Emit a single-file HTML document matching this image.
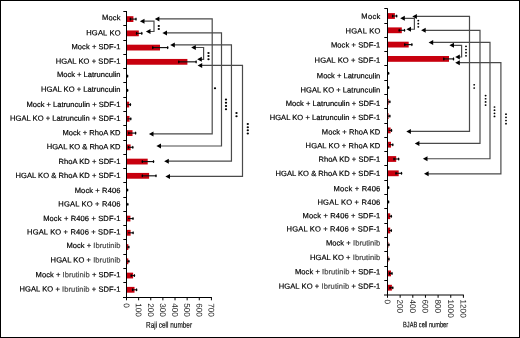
<!DOCTYPE html>
<html><head><meta charset="utf-8"><title>HGAL KO migration</title>
<style>
html,body{margin:0;padding:0;background:#fff;}
body{width:520px;height:338px;overflow:hidden;}
.fig{position:absolute;left:0;top:0;width:518px;height:336px;border:1px solid #000;background:#fff;}
svg{position:absolute;left:-1px;top:-1px;will-change:transform;}
text{font-family:"Liberation Sans", sans-serif;}
.lb{fill:#000;stroke:#000;stroke-width:0.2px;}
.tk{fill:#1a1a1a;stroke:none;text-rendering:geometricPrecision;}
.ti{fill:#000;stroke:#000;stroke-width:0.15px;}
</style></head>
<body><div class="fig">
<svg width="520" height="338" viewBox="0 0 520 338">
<rect x="127.00" y="16.20" width="6.40" height="5.8" fill="#c8000e"/>
<line x1="130.30" y1="19.10" x2="136.00" y2="19.10" stroke="#111" stroke-width="1.15"/>
<ellipse cx="136.00" cy="19.10" rx="0.75" ry="1.55" fill="#000"/>
<ellipse cx="130.30" cy="19.10" rx="0.75" ry="1.55" fill="#000"/>
<text x="120.5" y="20.15" transform="rotate(0.05 120.5 20.15)" text-anchor="end" textLength="18.55" lengthAdjust="spacing" font-size="7.56" class="lb">Mock</text>
<rect x="127.00" y="30.45" width="11.80" height="5.8" fill="#c8000e"/>
<line x1="136.60" y1="33.35" x2="141.80" y2="33.35" stroke="#111" stroke-width="1.15"/>
<ellipse cx="141.80" cy="33.35" rx="0.75" ry="1.55" fill="#000"/>
<ellipse cx="136.60" cy="33.35" rx="0.75" ry="1.55" fill="#000"/>
<text x="120.5" y="35.40" transform="rotate(0.05 120.5 35.40)" text-anchor="end" textLength="34.23" lengthAdjust="spacing" font-size="7.56" class="lb">HGAL KO</text>
<rect x="127.00" y="44.69" width="33.00" height="5.8" fill="#c8000e"/>
<line x1="152.80" y1="47.59" x2="167.70" y2="47.59" stroke="#111" stroke-width="1.15"/>
<ellipse cx="167.70" cy="47.59" rx="0.75" ry="1.55" fill="#000"/>
<ellipse cx="152.80" cy="47.59" rx="0.75" ry="1.55" fill="#000"/>
<text x="120.5" y="49.30" transform="rotate(0.05 120.5 49.30)" text-anchor="end" textLength="49.00" lengthAdjust="spacing" font-size="7.56" class="lb">Mock + SDF-1</text>
<rect x="127.00" y="58.94" width="60.40" height="5.8" fill="#c8000e"/>
<line x1="178.80" y1="61.84" x2="196.10" y2="61.84" stroke="#111" stroke-width="1.15"/>
<ellipse cx="196.10" cy="61.84" rx="0.75" ry="1.55" fill="#000"/>
<ellipse cx="178.80" cy="61.84" rx="0.75" ry="1.55" fill="#000"/>
<text x="120.5" y="63.70" transform="rotate(0.05 120.5 63.70)" text-anchor="end" textLength="64.84" lengthAdjust="spacing" font-size="7.56" class="lb">HGAL KO + SDF-1</text>
<line x1="126.90" y1="76.09" x2="127.60" y2="76.09" stroke="#111" stroke-width="1.15"/>
<ellipse cx="127.60" cy="76.09" rx="0.75" ry="1.55" fill="#000"/>
<text x="120.5" y="77.00" transform="rotate(0.05 120.5 77.00)" text-anchor="end" textLength="63.52" lengthAdjust="spacing" font-size="7.56" class="lb">Mock + Latrunculin</text>
<line x1="126.90" y1="90.34" x2="127.60" y2="90.34" stroke="#111" stroke-width="1.15"/>
<ellipse cx="127.60" cy="90.34" rx="0.75" ry="1.55" fill="#000"/>
<text x="120.5" y="91.90" transform="rotate(0.05 120.5 91.90)" text-anchor="end" textLength="79.45" lengthAdjust="spacing" font-size="7.56" class="lb">HGAL KO + Latrunculin</text>
<rect x="127.00" y="101.68" width="2.20" height="5.8" fill="#c8000e"/>
<line x1="127.50" y1="104.58" x2="130.40" y2="104.58" stroke="#111" stroke-width="1.15"/>
<ellipse cx="130.40" cy="104.58" rx="0.75" ry="1.55" fill="#000"/>
<text x="120.5" y="107.00" transform="rotate(0.05 120.5 107.00)" text-anchor="end" textLength="94.09" lengthAdjust="spacing" font-size="7.56" class="lb">Mock + Latrunculin + SDF-1</text>
<rect x="127.00" y="115.93" width="2.50" height="5.8" fill="#c8000e"/>
<line x1="127.50" y1="118.83" x2="130.80" y2="118.83" stroke="#111" stroke-width="1.15"/>
<ellipse cx="130.80" cy="118.83" rx="0.75" ry="1.55" fill="#000"/>
<text x="120.5" y="120.90" transform="rotate(0.05 120.5 120.90)" text-anchor="end" textLength="110.51" lengthAdjust="spacing" font-size="7.56" class="lb">HGAL KO + Latrunculin + SDF-1</text>
<rect x="127.00" y="130.18" width="5.50" height="5.8" fill="#c8000e"/>
<line x1="128.80" y1="133.08" x2="135.60" y2="133.08" stroke="#111" stroke-width="1.15"/>
<ellipse cx="135.60" cy="133.08" rx="0.75" ry="1.55" fill="#000"/>
<ellipse cx="128.80" cy="133.08" rx="0.75" ry="1.55" fill="#000"/>
<text x="120.5" y="135.35" transform="rotate(0.05 120.5 135.35)" text-anchor="end" textLength="58.08" lengthAdjust="spacing" font-size="7.56" class="lb">Mock + RhoA KD</text>
<rect x="127.00" y="144.42" width="3.60" height="5.8" fill="#c8000e"/>
<line x1="128.50" y1="147.32" x2="132.80" y2="147.32" stroke="#111" stroke-width="1.15"/>
<ellipse cx="132.80" cy="147.32" rx="0.75" ry="1.55" fill="#000"/>
<ellipse cx="128.50" cy="147.32" rx="0.75" ry="1.55" fill="#000"/>
<text x="120.5" y="149.20" transform="rotate(0.05 120.5 149.20)" text-anchor="end" textLength="73.76" lengthAdjust="spacing" font-size="7.56" class="lb">HGAL KO &amp; RhoA KD</text>
<rect x="127.00" y="158.67" width="20.70" height="5.8" fill="#c8000e"/>
<line x1="142.30" y1="161.57" x2="153.50" y2="161.57" stroke="#111" stroke-width="1.15"/>
<ellipse cx="153.50" cy="161.57" rx="0.75" ry="1.55" fill="#000"/>
<ellipse cx="142.30" cy="161.57" rx="0.75" ry="1.55" fill="#000"/>
<text x="120.5" y="164.00" transform="rotate(0.05 120.5 164.00)" text-anchor="end" textLength="61.91" lengthAdjust="spacing" font-size="7.56" class="lb">RhoA KD + SDF-1</text>
<rect x="127.00" y="172.92" width="22.10" height="5.8" fill="#c8000e"/>
<line x1="142.30" y1="175.82" x2="156.00" y2="175.82" stroke="#111" stroke-width="1.15"/>
<ellipse cx="156.00" cy="175.82" rx="0.75" ry="1.55" fill="#000"/>
<ellipse cx="142.30" cy="175.82" rx="0.75" ry="1.55" fill="#000"/>
<text x="120.5" y="178.00" transform="rotate(0.05 120.5 178.00)" text-anchor="end" textLength="104.98" lengthAdjust="spacing" font-size="7.56" class="lb">HGAL KO &amp; RhoA KD + SDF-1</text>
<line x1="126.90" y1="190.06" x2="127.60" y2="190.06" stroke="#111" stroke-width="1.15"/>
<ellipse cx="127.60" cy="190.06" rx="0.75" ry="1.55" fill="#000"/>
<text x="120.5" y="193.00" transform="rotate(0.05 120.5 193.00)" text-anchor="end" textLength="45.83" lengthAdjust="spacing" font-size="7.56" class="lb">Mock + R406</text>
<line x1="126.90" y1="204.31" x2="127.80" y2="204.31" stroke="#111" stroke-width="1.15"/>
<ellipse cx="127.80" cy="204.31" rx="0.75" ry="1.55" fill="#000"/>
<text x="120.5" y="206.45" transform="rotate(0.05 120.5 206.45)" text-anchor="end" textLength="62.21" lengthAdjust="spacing" font-size="7.56" class="lb">HGAL KO + R406</text>
<rect x="127.00" y="215.66" width="3.40" height="5.8" fill="#c8000e"/>
<line x1="128.00" y1="218.56" x2="133.00" y2="218.56" stroke="#111" stroke-width="1.15"/>
<ellipse cx="133.00" cy="218.56" rx="0.75" ry="1.55" fill="#000"/>
<text x="120.5" y="221.00" transform="rotate(0.05 120.5 221.00)" text-anchor="end" textLength="77.36" lengthAdjust="spacing" font-size="7.56" class="lb">Mock + R406 + SDF-1</text>
<rect x="127.00" y="229.90" width="3.60" height="5.8" fill="#c8000e"/>
<line x1="128.00" y1="232.80" x2="133.10" y2="232.80" stroke="#111" stroke-width="1.15"/>
<ellipse cx="133.10" cy="232.80" rx="0.75" ry="1.55" fill="#000"/>
<text x="120.5" y="234.60" transform="rotate(0.05 120.5 234.60)" text-anchor="end" textLength="93.44" lengthAdjust="spacing" font-size="7.56" class="lb">HGAL KO + R406 + SDF-1</text>
<rect x="127.00" y="244.15" width="1.30" height="5.8" fill="#c8000e"/>
<line x1="127.30" y1="247.05" x2="128.90" y2="247.05" stroke="#111" stroke-width="1.15"/>
<ellipse cx="128.90" cy="247.05" rx="0.75" ry="1.55" fill="#000"/>
<text x="120.5" y="248.00" transform="rotate(0.05 120.5 248.00)" text-anchor="end" textLength="54.06" lengthAdjust="spacing" font-size="7.56" class="lb">Mock + <tspan fill="#444" stroke="#444">Ibrutinib</tspan></text>
<rect x="127.00" y="258.40" width="1.30" height="5.8" fill="#c8000e"/>
<line x1="127.30" y1="261.30" x2="128.90" y2="261.30" stroke="#111" stroke-width="1.15"/>
<ellipse cx="128.90" cy="261.30" rx="0.75" ry="1.55" fill="#000"/>
<text x="120.5" y="262.45" transform="rotate(0.05 120.5 262.45)" text-anchor="end" textLength="69.88" lengthAdjust="spacing" font-size="7.56" class="lb">HGAL KO + <tspan fill="#444" stroke="#444">Ibrutinib</tspan></text>
<rect x="127.00" y="272.65" width="6.10" height="5.8" fill="#c8000e"/>
<line x1="131.20" y1="275.55" x2="134.40" y2="275.55" stroke="#111" stroke-width="1.15"/>
<ellipse cx="134.40" cy="275.55" rx="0.75" ry="1.55" fill="#000"/>
<ellipse cx="131.20" cy="275.55" rx="0.75" ry="1.55" fill="#000"/>
<text x="120.5" y="277.30" transform="rotate(0.05 120.5 277.30)" text-anchor="end" textLength="84.92" lengthAdjust="spacing" font-size="7.56" class="lb">Mock + <tspan fill="#444" stroke="#444">Ibrutinib</tspan> + SDF-1</text>
<rect x="127.00" y="286.89" width="7.50" height="5.8" fill="#c8000e"/>
<line x1="132.60" y1="289.79" x2="136.60" y2="289.79" stroke="#111" stroke-width="1.15"/>
<ellipse cx="136.60" cy="289.79" rx="0.75" ry="1.55" fill="#000"/>
<ellipse cx="132.60" cy="289.79" rx="0.75" ry="1.55" fill="#000"/>
<text x="120.5" y="291.70" transform="rotate(0.05 120.5 291.70)" text-anchor="end" textLength="101.00" lengthAdjust="spacing" font-size="7.56" class="lb">HGAL KO + <tspan fill="#444" stroke="#444">Ibrutinib</tspan> + SDF-1</text>
<line x1="126.5" y1="11.0" x2="126.5" y2="297.5" stroke="#000" stroke-width="1"/>
<line x1="123.3" y1="11.50" x2="126.5" y2="11.50" stroke="#000" stroke-width="1"/>
<line x1="123.3" y1="25.50" x2="126.5" y2="25.50" stroke="#000" stroke-width="1"/>
<line x1="123.3" y1="40.50" x2="126.5" y2="40.50" stroke="#000" stroke-width="1"/>
<line x1="123.3" y1="54.50" x2="126.5" y2="54.50" stroke="#000" stroke-width="1"/>
<line x1="123.3" y1="68.50" x2="126.5" y2="68.50" stroke="#000" stroke-width="1"/>
<line x1="123.3" y1="82.50" x2="126.5" y2="82.50" stroke="#000" stroke-width="1"/>
<line x1="123.3" y1="97.50" x2="126.5" y2="97.50" stroke="#000" stroke-width="1"/>
<line x1="123.3" y1="111.50" x2="126.5" y2="111.50" stroke="#000" stroke-width="1"/>
<line x1="123.3" y1="125.50" x2="126.5" y2="125.50" stroke="#000" stroke-width="1"/>
<line x1="123.3" y1="140.50" x2="126.5" y2="140.50" stroke="#000" stroke-width="1"/>
<line x1="123.3" y1="154.50" x2="126.5" y2="154.50" stroke="#000" stroke-width="1"/>
<line x1="123.3" y1="168.50" x2="126.5" y2="168.50" stroke="#000" stroke-width="1"/>
<line x1="123.3" y1="182.50" x2="126.5" y2="182.50" stroke="#000" stroke-width="1"/>
<line x1="123.3" y1="197.50" x2="126.5" y2="197.50" stroke="#000" stroke-width="1"/>
<line x1="123.3" y1="211.50" x2="126.5" y2="211.50" stroke="#000" stroke-width="1"/>
<line x1="123.3" y1="225.50" x2="126.5" y2="225.50" stroke="#000" stroke-width="1"/>
<line x1="123.3" y1="239.50" x2="126.5" y2="239.50" stroke="#000" stroke-width="1"/>
<line x1="123.3" y1="254.50" x2="126.5" y2="254.50" stroke="#000" stroke-width="1"/>
<line x1="123.3" y1="268.50" x2="126.5" y2="268.50" stroke="#000" stroke-width="1"/>
<line x1="123.3" y1="282.50" x2="126.5" y2="282.50" stroke="#000" stroke-width="1"/>
<line x1="123.0" y1="297.5" x2="211.91000000000003" y2="297.5" stroke="#000" stroke-width="1"/>
<line x1="126.50" y1="297.5" x2="126.50" y2="300.3" stroke="#000" stroke-width="1"/>
<text transform="translate(123.65,303.20) rotate(89.95)" font-size="8.2" class="tk">0</text>
<line x1="138.63" y1="297.5" x2="138.63" y2="300.3" stroke="#000" stroke-width="1"/>
<text transform="translate(135.78,303.20) rotate(89.95)" font-size="8.2" class="tk">100</text>
<line x1="150.76" y1="297.5" x2="150.76" y2="300.3" stroke="#000" stroke-width="1"/>
<text transform="translate(147.91,303.20) rotate(89.95)" font-size="8.2" class="tk">200</text>
<line x1="162.89" y1="297.5" x2="162.89" y2="300.3" stroke="#000" stroke-width="1"/>
<text transform="translate(160.04,303.20) rotate(89.95)" font-size="8.2" class="tk">300</text>
<line x1="175.02" y1="297.5" x2="175.02" y2="300.3" stroke="#000" stroke-width="1"/>
<text transform="translate(172.17,303.20) rotate(89.95)" font-size="8.2" class="tk">400</text>
<line x1="187.15" y1="297.5" x2="187.15" y2="300.3" stroke="#000" stroke-width="1"/>
<text transform="translate(184.30,303.20) rotate(89.95)" font-size="8.2" class="tk">500</text>
<line x1="199.28" y1="297.5" x2="199.28" y2="300.3" stroke="#000" stroke-width="1"/>
<text transform="translate(196.43,303.20) rotate(89.95)" font-size="8.2" class="tk">600</text>
<line x1="211.41" y1="297.5" x2="211.41" y2="300.3" stroke="#000" stroke-width="1"/>
<text transform="translate(208.56,303.20) rotate(89.95)" font-size="8.2" class="tk">700</text>
<text transform="translate(169.0,327.8) scale(0.765,1) rotate(0.05)" text-anchor="middle" font-size="8.4" class="ti">Raji cell number</text>
<rect x="388.00" y="13.10" width="6.90" height="5.8" fill="#c8000e"/>
<line x1="392.60" y1="16.00" x2="396.70" y2="16.00" stroke="#111" stroke-width="1.15"/>
<ellipse cx="396.70" cy="16.00" rx="0.75" ry="1.55" fill="#000"/>
<ellipse cx="392.60" cy="16.00" rx="0.75" ry="1.55" fill="#000"/>
<text x="380.3" y="18.90" transform="rotate(0.05 380.3 18.90)" text-anchor="end" textLength="18.94" lengthAdjust="spacing" font-size="7.56" class="lb">Mock</text>
<rect x="388.00" y="27.40" width="13.80" height="5.8" fill="#c8000e"/>
<line x1="399.20" y1="30.30" x2="404.50" y2="30.30" stroke="#111" stroke-width="1.15"/>
<ellipse cx="404.50" cy="30.30" rx="0.75" ry="1.55" fill="#000"/>
<ellipse cx="399.20" cy="30.30" rx="0.75" ry="1.55" fill="#000"/>
<text x="380.3" y="33.60" transform="rotate(0.05 380.3 33.60)" text-anchor="end" textLength="34.74" lengthAdjust="spacing" font-size="7.56" class="lb">HGAL KO</text>
<rect x="388.00" y="41.70" width="20.70" height="5.8" fill="#c8000e"/>
<line x1="404.80" y1="44.60" x2="411.90" y2="44.60" stroke="#111" stroke-width="1.15"/>
<ellipse cx="411.90" cy="44.60" rx="0.75" ry="1.55" fill="#000"/>
<ellipse cx="404.80" cy="44.60" rx="0.75" ry="1.55" fill="#000"/>
<text x="380.3" y="47.50" transform="rotate(0.05 380.3 47.50)" text-anchor="end" textLength="49.33" lengthAdjust="spacing" font-size="7.56" class="lb">Mock + SDF-1</text>
<rect x="388.00" y="56.00" width="61.00" height="5.8" fill="#c8000e"/>
<line x1="443.80" y1="58.90" x2="453.50" y2="58.90" stroke="#111" stroke-width="1.15"/>
<ellipse cx="453.50" cy="58.90" rx="0.75" ry="1.55" fill="#000"/>
<ellipse cx="443.80" cy="58.90" rx="0.75" ry="1.55" fill="#000"/>
<text x="380.3" y="62.85" transform="rotate(0.05 380.3 62.85)" text-anchor="end" textLength="65.74" lengthAdjust="spacing" font-size="7.56" class="lb">HGAL KO + SDF-1</text>
<line x1="388.00" y1="73.20" x2="388.60" y2="73.20" stroke="#111" stroke-width="1.15"/>
<ellipse cx="388.60" cy="73.20" rx="0.75" ry="1.55" fill="#000"/>
<text x="380.3" y="78.40" transform="rotate(0.05 380.3 78.40)" text-anchor="end" textLength="63.45" lengthAdjust="spacing" font-size="7.56" class="lb">Mock + Latrunculin</text>
<line x1="388.00" y1="87.50" x2="388.60" y2="87.50" stroke="#111" stroke-width="1.15"/>
<ellipse cx="388.60" cy="87.50" rx="0.75" ry="1.55" fill="#000"/>
<text x="380.3" y="92.60" transform="rotate(0.05 380.3 92.60)" text-anchor="end" textLength="79.84" lengthAdjust="spacing" font-size="7.56" class="lb">HGAL KO + Latrunculin</text>
<rect x="388.00" y="98.90" width="0.60" height="5.8" fill="#c8000e"/>
<line x1="388.00" y1="101.80" x2="389.90" y2="101.80" stroke="#111" stroke-width="1.15"/>
<ellipse cx="389.90" cy="101.80" rx="0.75" ry="1.55" fill="#000"/>
<text x="380.3" y="106.00" transform="rotate(0.05 380.3 106.00)" text-anchor="end" textLength="94.51" lengthAdjust="spacing" font-size="7.56" class="lb">Mock + Latrunculin + SDF-1</text>
<rect x="388.00" y="113.20" width="0.60" height="5.8" fill="#c8000e"/>
<line x1="388.00" y1="116.10" x2="389.90" y2="116.10" stroke="#111" stroke-width="1.15"/>
<ellipse cx="389.90" cy="116.10" rx="0.75" ry="1.55" fill="#000"/>
<text x="380.3" y="120.00" transform="rotate(0.05 380.3 120.00)" text-anchor="end" textLength="110.66" lengthAdjust="spacing" font-size="7.56" class="lb">HGAL KO + Latrunculin + SDF-1</text>
<rect x="388.00" y="127.50" width="2.60" height="5.8" fill="#c8000e"/>
<line x1="388.60" y1="130.40" x2="391.50" y2="130.40" stroke="#111" stroke-width="1.15"/>
<ellipse cx="391.50" cy="130.40" rx="0.75" ry="1.55" fill="#000"/>
<text x="380.3" y="134.60" transform="rotate(0.05 380.3 134.60)" text-anchor="end" textLength="58.50" lengthAdjust="spacing" font-size="7.56" class="lb">Mock + RhoA KD</text>
<rect x="388.00" y="141.80" width="3.00" height="5.8" fill="#c8000e"/>
<line x1="389.00" y1="144.70" x2="392.80" y2="144.70" stroke="#111" stroke-width="1.15"/>
<ellipse cx="392.80" cy="144.70" rx="0.75" ry="1.55" fill="#000"/>
<text x="380.3" y="148.20" transform="rotate(0.05 380.3 148.20)" text-anchor="end" textLength="74.70" lengthAdjust="spacing" font-size="7.56" class="lb">HGAL KO + RhoA KD</text>
<rect x="388.00" y="156.10" width="8.20" height="5.8" fill="#c8000e"/>
<line x1="394.00" y1="159.00" x2="398.70" y2="159.00" stroke="#111" stroke-width="1.15"/>
<ellipse cx="398.70" cy="159.00" rx="0.75" ry="1.55" fill="#000"/>
<ellipse cx="394.00" cy="159.00" rx="0.75" ry="1.55" fill="#000"/>
<text x="380.3" y="161.80" transform="rotate(0.05 380.3 161.80)" text-anchor="end" textLength="61.85" lengthAdjust="spacing" font-size="7.56" class="lb">RhoA KD + SDF-1</text>
<rect x="388.00" y="170.40" width="10.70" height="5.8" fill="#c8000e"/>
<line x1="396.00" y1="173.30" x2="401.50" y2="173.30" stroke="#111" stroke-width="1.15"/>
<ellipse cx="401.50" cy="173.30" rx="0.75" ry="1.55" fill="#000"/>
<ellipse cx="396.00" cy="173.30" rx="0.75" ry="1.55" fill="#000"/>
<text x="380.3" y="176.00" transform="rotate(0.05 380.3 176.00)" text-anchor="end" textLength="104.80" lengthAdjust="spacing" font-size="7.56" class="lb">HGAL KO &amp; RhoA KD + SDF-1</text>
<line x1="388.00" y1="187.60" x2="388.60" y2="187.60" stroke="#111" stroke-width="1.15"/>
<ellipse cx="388.60" cy="187.60" rx="0.75" ry="1.55" fill="#000"/>
<text x="380.3" y="191.35" transform="rotate(0.05 380.3 191.35)" text-anchor="end" textLength="46.70" lengthAdjust="spacing" font-size="7.56" class="lb">Mock + R406</text>
<line x1="388.00" y1="201.90" x2="388.60" y2="201.90" stroke="#111" stroke-width="1.15"/>
<ellipse cx="388.60" cy="201.90" rx="0.75" ry="1.55" fill="#000"/>
<text x="380.3" y="204.80" transform="rotate(0.05 380.3 204.80)" text-anchor="end" textLength="62.87" lengthAdjust="spacing" font-size="7.56" class="lb">HGAL KO + R406</text>
<rect x="388.00" y="213.30" width="2.20" height="5.8" fill="#c8000e"/>
<line x1="389.00" y1="216.20" x2="391.30" y2="216.20" stroke="#111" stroke-width="1.15"/>
<ellipse cx="391.30" cy="216.20" rx="0.75" ry="1.55" fill="#000"/>
<text x="380.3" y="218.30" transform="rotate(0.05 380.3 218.30)" text-anchor="end" textLength="77.79" lengthAdjust="spacing" font-size="7.56" class="lb">Mock + R406 + SDF-1</text>
<rect x="388.00" y="227.60" width="2.20" height="5.8" fill="#c8000e"/>
<line x1="389.00" y1="230.50" x2="391.30" y2="230.50" stroke="#111" stroke-width="1.15"/>
<ellipse cx="391.30" cy="230.50" rx="0.75" ry="1.55" fill="#000"/>
<text x="380.3" y="231.55" transform="rotate(0.05 380.3 231.55)" text-anchor="end" textLength="93.69" lengthAdjust="spacing" font-size="7.56" class="lb">HGAL KO + R406 + SDF-1</text>
<rect x="388.00" y="241.90" width="0.40" height="5.8" fill="#c8000e"/>
<line x1="388.00" y1="244.80" x2="389.00" y2="244.80" stroke="#111" stroke-width="1.15"/>
<ellipse cx="389.00" cy="244.80" rx="0.75" ry="1.55" fill="#000"/>
<text x="380.3" y="245.60" transform="rotate(0.05 380.3 245.60)" text-anchor="end" textLength="54.39" lengthAdjust="spacing" font-size="7.56" class="lb">Mock + <tspan fill="#444" stroke="#444">Ibrutinib</tspan></text>
<rect x="388.00" y="256.20" width="0.40" height="5.8" fill="#c8000e"/>
<line x1="388.00" y1="259.10" x2="389.00" y2="259.10" stroke="#111" stroke-width="1.15"/>
<ellipse cx="389.00" cy="259.10" rx="0.75" ry="1.55" fill="#000"/>
<text x="380.3" y="260.00" transform="rotate(0.05 380.3 260.00)" text-anchor="end" textLength="70.36" lengthAdjust="spacing" font-size="7.56" class="lb">HGAL KO + <tspan fill="#444" stroke="#444">Ibrutinib</tspan></text>
<rect x="388.00" y="270.50" width="3.00" height="5.8" fill="#c8000e"/>
<line x1="389.50" y1="273.40" x2="392.00" y2="273.40" stroke="#111" stroke-width="1.15"/>
<ellipse cx="392.00" cy="273.40" rx="0.75" ry="1.55" fill="#000"/>
<ellipse cx="389.50" cy="273.40" rx="0.75" ry="1.55" fill="#000"/>
<text x="380.3" y="274.40" transform="rotate(0.05 380.3 274.40)" text-anchor="end" textLength="85.32" lengthAdjust="spacing" font-size="7.56" class="lb">Mock + <tspan fill="#444" stroke="#444">Ibrutinib</tspan> + SDF-1</text>
<rect x="388.00" y="284.80" width="3.90" height="5.8" fill="#c8000e"/>
<line x1="390.00" y1="287.70" x2="392.80" y2="287.70" stroke="#111" stroke-width="1.15"/>
<ellipse cx="392.80" cy="287.70" rx="0.75" ry="1.55" fill="#000"/>
<ellipse cx="390.00" cy="287.70" rx="0.75" ry="1.55" fill="#000"/>
<text x="380.3" y="288.75" transform="rotate(0.05 380.3 288.75)" text-anchor="end" textLength="101.65" lengthAdjust="spacing" font-size="7.56" class="lb">HGAL KO + <tspan fill="#444" stroke="#444">Ibrutinib</tspan> + SDF-1</text>
<line x1="387.5" y1="8.3" x2="387.5" y2="295.0" stroke="#000" stroke-width="1"/>
<line x1="384.3" y1="8.50" x2="387.5" y2="8.50" stroke="#000" stroke-width="1"/>
<line x1="384.3" y1="23.50" x2="387.5" y2="23.50" stroke="#000" stroke-width="1"/>
<line x1="384.3" y1="37.50" x2="387.5" y2="37.50" stroke="#000" stroke-width="1"/>
<line x1="384.3" y1="51.50" x2="387.5" y2="51.50" stroke="#000" stroke-width="1"/>
<line x1="384.3" y1="65.50" x2="387.5" y2="65.50" stroke="#000" stroke-width="1"/>
<line x1="384.3" y1="80.50" x2="387.5" y2="80.50" stroke="#000" stroke-width="1"/>
<line x1="384.3" y1="94.50" x2="387.5" y2="94.50" stroke="#000" stroke-width="1"/>
<line x1="384.3" y1="108.50" x2="387.5" y2="108.50" stroke="#000" stroke-width="1"/>
<line x1="384.3" y1="123.50" x2="387.5" y2="123.50" stroke="#000" stroke-width="1"/>
<line x1="384.3" y1="137.50" x2="387.5" y2="137.50" stroke="#000" stroke-width="1"/>
<line x1="384.3" y1="151.50" x2="387.5" y2="151.50" stroke="#000" stroke-width="1"/>
<line x1="384.3" y1="165.50" x2="387.5" y2="165.50" stroke="#000" stroke-width="1"/>
<line x1="384.3" y1="180.50" x2="387.5" y2="180.50" stroke="#000" stroke-width="1"/>
<line x1="384.3" y1="194.50" x2="387.5" y2="194.50" stroke="#000" stroke-width="1"/>
<line x1="384.3" y1="208.50" x2="387.5" y2="208.50" stroke="#000" stroke-width="1"/>
<line x1="384.3" y1="223.50" x2="387.5" y2="223.50" stroke="#000" stroke-width="1"/>
<line x1="384.3" y1="237.50" x2="387.5" y2="237.50" stroke="#000" stroke-width="1"/>
<line x1="384.3" y1="251.50" x2="387.5" y2="251.50" stroke="#000" stroke-width="1"/>
<line x1="384.3" y1="266.50" x2="387.5" y2="266.50" stroke="#000" stroke-width="1"/>
<line x1="384.3" y1="280.50" x2="387.5" y2="280.50" stroke="#000" stroke-width="1"/>
<line x1="384.0" y1="295.0" x2="463.9" y2="295.0" stroke="#000" stroke-width="1"/>
<line x1="387.50" y1="295.0" x2="387.50" y2="297.8" stroke="#000" stroke-width="1"/>
<text transform="translate(384.65,299.50) rotate(89.95)" font-size="8.2" class="tk">0</text>
<line x1="400.15" y1="295.0" x2="400.15" y2="297.8" stroke="#000" stroke-width="1"/>
<text transform="translate(397.30,299.50) rotate(89.95)" font-size="8.2" class="tk">200</text>
<line x1="412.80" y1="295.0" x2="412.80" y2="297.8" stroke="#000" stroke-width="1"/>
<text transform="translate(409.95,299.50) rotate(89.95)" font-size="8.2" class="tk">400</text>
<line x1="425.45" y1="295.0" x2="425.45" y2="297.8" stroke="#000" stroke-width="1"/>
<text transform="translate(422.60,299.50) rotate(89.95)" font-size="8.2" class="tk">600</text>
<line x1="438.10" y1="295.0" x2="438.10" y2="297.8" stroke="#000" stroke-width="1"/>
<text transform="translate(435.25,299.50) rotate(89.95)" font-size="8.2" class="tk">800</text>
<line x1="450.75" y1="295.0" x2="450.75" y2="297.8" stroke="#000" stroke-width="1"/>
<text transform="translate(447.90,299.50) rotate(89.95)" font-size="8.2" class="tk">1000</text>
<line x1="463.40" y1="295.0" x2="463.40" y2="297.8" stroke="#000" stroke-width="1"/>
<text transform="translate(460.55,299.50) rotate(89.95)" font-size="8.2" class="tk">1200</text>
<text transform="translate(425.6,327.2) scale(0.73,1) rotate(0.05)" text-anchor="middle" font-size="7.8" class="ti">BJAB cell number</text>
<path d="M157.80,18.90 H212.20 V133.90 H151.90" fill="none" stroke="#4a4a4a" stroke-width="1.2"/>
<path d="M154.80,18.90 L159.40,16.40 L159.40,21.40 Z" fill="#000"/>
<path d="M148.90,133.90 L153.50,131.40 L153.50,136.40 Z" fill="#000"/>
<path d="M165.40,32.90 H221.50 V146.00 H159.40" fill="none" stroke="#4a4a4a" stroke-width="1.2"/>
<path d="M162.40,32.90 L167.00,30.40 L167.00,35.40 Z" fill="#000"/>
<path d="M156.40,146.00 L161.00,143.50 L161.00,148.50 Z" fill="#000"/>
<path d="M173.20,44.90 H231.45 V161.20 H167.20" fill="none" stroke="#4a4a4a" stroke-width="1.2"/>
<path d="M170.20,44.90 L174.80,42.40 L174.80,47.40 Z" fill="#000"/>
<path d="M164.20,161.20 L168.80,158.70 L168.80,163.70 Z" fill="#000"/>
<path d="M200.60,65.40 H242.50 V176.40 H168.40" fill="none" stroke="#4a4a4a" stroke-width="1.2"/>
<path d="M197.60,65.40 L202.20,62.90 L202.20,67.90 Z" fill="#000"/>
<path d="M165.40,176.40 L170.00,173.90 L170.00,178.90 Z" fill="#000"/>
<path d="M142.90,21.20 H154.00 V31.50 H148.90" fill="none" stroke="#4a4a4a" stroke-width="1.2"/>
<path d="M139.90,21.20 L144.50,18.70 L144.50,23.70 Z" fill="#000"/>
<path d="M145.90,31.50 L150.50,29.00 L150.50,34.00 Z" fill="#000"/>
<path d="M194.20,47.50 H203.60 V59.30 H200.20" fill="none" stroke="#4a4a4a" stroke-width="1.2"/>
<path d="M191.20,47.50 L195.80,45.00 L195.80,50.00 Z" fill="#000"/>
<path d="M197.20,59.30 L201.80,56.80 L201.80,61.80 Z" fill="#000"/>
<ellipse cx="158.80" cy="25.90" rx="1.15" ry="1.0" fill="#000"/>
<ellipse cx="158.80" cy="28.90" rx="1.15" ry="1.0" fill="#000"/>
<ellipse cx="208.50" cy="52.90" rx="1.15" ry="1.0" fill="#000"/>
<ellipse cx="208.50" cy="56.05" rx="1.15" ry="1.0" fill="#000"/>
<ellipse cx="208.50" cy="59.20" rx="1.15" ry="1.0" fill="#000"/>
<ellipse cx="215.00" cy="88.20" rx="1.15" ry="1.0" fill="#000"/>
<ellipse cx="226.00" cy="99.40" rx="1.15" ry="1.0" fill="#000"/>
<ellipse cx="226.00" cy="102.67" rx="1.15" ry="1.0" fill="#000"/>
<ellipse cx="226.00" cy="105.94" rx="1.15" ry="1.0" fill="#000"/>
<ellipse cx="226.00" cy="109.20" rx="1.15" ry="1.0" fill="#000"/>
<ellipse cx="236.50" cy="113.00" rx="1.15" ry="1.0" fill="#000"/>
<ellipse cx="236.50" cy="116.20" rx="1.15" ry="1.0" fill="#000"/>
<ellipse cx="247.80" cy="124.10" rx="1.15" ry="1.0" fill="#000"/>
<ellipse cx="247.80" cy="127.20" rx="1.15" ry="1.0" fill="#000"/>
<ellipse cx="247.80" cy="130.30" rx="1.15" ry="1.0" fill="#000"/>
<ellipse cx="247.80" cy="133.40" rx="1.15" ry="1.0" fill="#000"/>
<path d="M415.30,16.40 H469.50 V131.40 H409.30" fill="none" stroke="#4a4a4a" stroke-width="1.2"/>
<path d="M412.30,16.40 L416.90,13.90 L416.90,18.90 Z" fill="#000"/>
<path d="M406.30,131.40 L410.90,128.90 L410.90,133.90 Z" fill="#000"/>
<path d="M424.10,30.30 H480.00 V143.40 H417.80" fill="none" stroke="#4a4a4a" stroke-width="1.2"/>
<path d="M421.10,30.30 L425.70,27.80 L425.70,32.80 Z" fill="#000"/>
<path d="M414.80,143.40 L419.40,140.90 L419.40,145.90 Z" fill="#000"/>
<path d="M431.60,42.40 H490.00 V158.75 H425.90" fill="none" stroke="#4a4a4a" stroke-width="1.2"/>
<path d="M428.60,42.40 L433.20,39.90 L433.20,44.90 Z" fill="#000"/>
<path d="M422.90,158.75 L427.50,156.25 L427.50,161.25 Z" fill="#000"/>
<path d="M458.20,62.70 H500.90 V173.85 H427.00" fill="none" stroke="#4a4a4a" stroke-width="1.2"/>
<path d="M455.20,62.70 L459.80,60.20 L459.80,65.20 Z" fill="#000"/>
<path d="M424.00,173.85 L428.60,171.35 L428.60,176.35 Z" fill="#000"/>
<path d="M403.20,18.30 H414.40 V29.25 H409.40" fill="none" stroke="#4a4a4a" stroke-width="1.2"/>
<path d="M400.20,18.30 L404.80,15.80 L404.80,20.80 Z" fill="#000"/>
<path d="M406.40,29.25 L411.00,26.75 L411.00,31.75 Z" fill="#000"/>
<path d="M452.40,45.30 H461.60 V57.00 H458.20" fill="none" stroke="#4a4a4a" stroke-width="1.2"/>
<path d="M449.40,45.30 L454.00,42.80 L454.00,47.80 Z" fill="#000"/>
<path d="M455.20,57.00 L459.80,54.50 L459.80,59.50 Z" fill="#000"/>
<ellipse cx="418.30" cy="20.60" rx="0.95" ry="0.85" fill="#000"/>
<ellipse cx="418.30" cy="23.70" rx="0.95" ry="0.85" fill="#000"/>
<ellipse cx="418.30" cy="26.80" rx="0.95" ry="0.85" fill="#000"/>
<ellipse cx="466.00" cy="46.30" rx="0.95" ry="0.85" fill="#000"/>
<ellipse cx="466.00" cy="49.50" rx="0.95" ry="0.85" fill="#000"/>
<ellipse cx="466.00" cy="52.70" rx="0.95" ry="0.85" fill="#000"/>
<ellipse cx="466.00" cy="55.80" rx="0.95" ry="0.85" fill="#000"/>
<ellipse cx="474.20" cy="84.75" rx="0.95" ry="0.85" fill="#000"/>
<ellipse cx="474.20" cy="88.00" rx="0.95" ry="0.85" fill="#000"/>
<ellipse cx="485.60" cy="95.60" rx="0.95" ry="0.85" fill="#000"/>
<ellipse cx="485.60" cy="98.75" rx="0.95" ry="0.85" fill="#000"/>
<ellipse cx="485.60" cy="101.90" rx="0.95" ry="0.85" fill="#000"/>
<ellipse cx="485.60" cy="105.05" rx="0.95" ry="0.85" fill="#000"/>
<ellipse cx="494.50" cy="107.00" rx="0.95" ry="0.85" fill="#000"/>
<ellipse cx="494.50" cy="110.15" rx="0.95" ry="0.85" fill="#000"/>
<ellipse cx="494.50" cy="113.30" rx="0.95" ry="0.85" fill="#000"/>
<ellipse cx="494.50" cy="116.45" rx="0.95" ry="0.85" fill="#000"/>
<ellipse cx="506.00" cy="114.20" rx="0.95" ry="0.85" fill="#000"/>
<ellipse cx="506.00" cy="117.35" rx="0.95" ry="0.85" fill="#000"/>
<ellipse cx="506.00" cy="120.50" rx="0.95" ry="0.85" fill="#000"/>
<ellipse cx="506.00" cy="123.65" rx="0.95" ry="0.85" fill="#000"/>
</svg></div></body></html>
